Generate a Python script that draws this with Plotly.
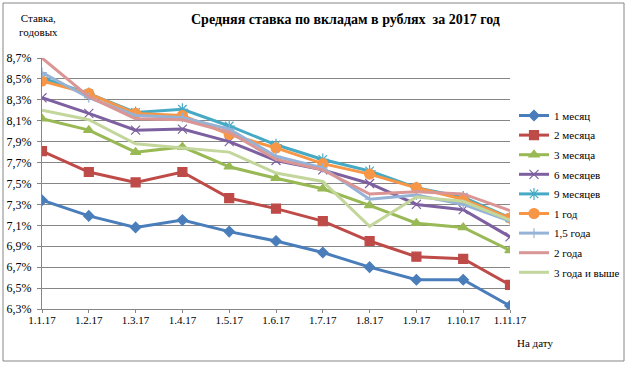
import plotly.graph_objects as go

dates = ["1.1.17", "1.2.17", "1.3.17", "1.4.17", "1.5.17", "1.6.17",
         "1.7.17", "1.8.17", "1.9.17", "1.10.17", "1.11.17"]

m1 = [7.34, 7.19, 7.08, 7.15, 7.04, 6.95, 6.84, 6.70, 6.58, 6.58, 6.33]
m2 = [7.81, 7.61, 7.51, 7.61, 7.36, 7.26, 7.14, 6.95, 6.80, 6.78, 6.53]
m3 = [8.12, 8.01, 7.80, 7.85, 7.66, 7.55, 7.45, 7.29, 7.12, 7.08, 6.86]
m6 = [8.32, 8.17, 8.01, 8.02, 7.90, 7.72, 7.63, 7.50, 7.30, 7.25, 6.99]
m9 = [8.51, 8.36, 8.18, 8.21, 8.05, 7.87, 7.73, 7.62, 7.46, 7.37, 7.17]
y1 = [8.48, 8.36, 8.17, 8.15, 7.97, 7.84, 7.69, 7.59, 7.46, 7.35, 7.17]
y15 = [8.56, 8.32, 8.15, 8.13, 8.02, 7.76, 7.65, 7.35, 7.39, 7.30, 7.14]
y2 = [8.70, 8.33, 8.12, 8.11, 7.99, 7.73, 7.63, 7.40, 7.42, 7.40, 7.24]
y3 = [8.20, 8.11, 7.88, 7.84, 7.80, 7.60, 7.52, 7.09, 7.37, 7.33, 7.15]

series = [
    ("1 месяц", m1, "#4A7EBB", "diamond", 8),
    ("2 месяца", m2, "#BE4B48", "square", 9),
    ("3 месяца", m3, "#98B954", "triangle-up", 9),
    ("6 месяцев", m6, "#7D60A0", "x-thin", 9),
    ("9 месяцев", m9, "#46AAC5", "asterisk", 10),
    ("1 год", y1, "#F79646", "circle", 10),
    ("1,5 года", y15, "#95B3D7", "cross-thin", 7),
    ("2 года", y2, "#D99694", None, 0),
    ("3 года и выше", y3, "#C3D69B", None, 0),
]

FONT = "Liberation Serif"
L, R, T, B = 42, 510, 58, 309
PW, PH = R - L, B - T


def px(x):
    return (x - L) / PW


def py(y):
    return (B - y) / PH


fig = go.Figure()
for i, (name, vals, color, sym, size) in enumerate(series):
    if sym:
        marker = dict(symbol=sym, size=size, color=color,
                      line=dict(color=color, width=1.2))
        mode = "lines+markers"
    else:
        marker = dict(size=0, color=color)
        mode = "lines"
    fig.add_trace(go.Scatter(x=dates, y=vals, name=name, mode=mode,
                             legendgroup=f"g{i}",
                             line=dict(color=color, width=3), marker=marker))

fig.update_layout(
    width=628, height=365,
    margin=dict(l=L, r=628 - R, t=T, b=365 - B, autoexpand=False),
    paper_bgcolor="white", plot_bgcolor="white",
    separators=", ",
    font=dict(family=FONT, size=11, color="black"),
    showlegend=True,
    legend=dict(x=px(514), y=py(101), xanchor="left", yanchor="top",
                font=dict(family=FONT, size=11),
                tracegroupgap=0.6, bgcolor="rgba(0,0,0,0)", itemwidth=30),
    xaxis=dict(type="category", range=[0, 10], showgrid=False,
               showline=True, linecolor="#868686", linewidth=1,
               ticks="outside", ticklen=3, tickcolor="#868686",
               ticklabelstandoff=-2,
               tickfont=dict(family=FONT, size=11), zeroline=False),
    yaxis=dict(range=[6.3, 8.7], dtick=0.2, tick0=6.3, tickformat=".1f",
               ticksuffix="%", showgrid=True, gridcolor="#868686", gridwidth=1,
               showline=True, linecolor="#868686", linewidth=1,
               ticks="outside", ticklen=4, tickcolor="#868686",
               ticklabelstandoff=3,
               tickfont=dict(family=FONT, size=12), zeroline=False),
    shapes=[dict(type="rect", xref="paper", yref="paper", x0=px(3), x1=px(624),
                 y0=py(361), y1=py(3), line=dict(color="#868686", width=1))],
    annotations=[
        dict(text="<b>Средняя ставка по вкладам в рублях  за 2017 год</b>",
             xref="paper", yref="paper", x=px(345), y=py(20),
             xanchor="center", yanchor="middle", showarrow=False,
             font=dict(family=FONT, size=14)),
        dict(text="Ставка,<br>годовых", xref="paper", yref="paper",
             x=px(38), y=py(25), xanchor="center", yanchor="middle",
             showarrow=False, font=dict(family=FONT, size=11)),
        dict(text="На дату", xref="paper", yref="paper",
             x=px(535), y=py(343), xanchor="center", yanchor="middle",
             showarrow=False, font=dict(family=FONT, size=11)),
    ],
)

fig.write_html("out.html", config={"displayModeBar": False},
               post_script="document.body.style.margin='0';")
